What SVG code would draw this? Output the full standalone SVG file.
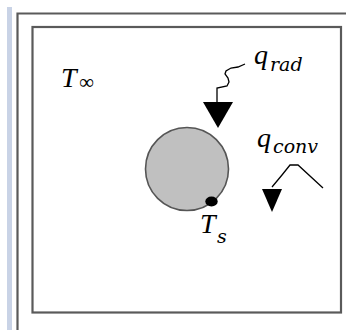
<svg xmlns="http://www.w3.org/2000/svg" width="346" height="330" viewBox="0 0 346 330">
<style>
.frame{fill:none;stroke:#5a5a5a;stroke-width:2.2}
.m{font-family:"Liberation Serif","DejaVu Serif",serif;font-style:italic;fill:#000}
.s{font-family:"DejaVu Serif","Liberation Serif",serif;font-style:italic;fill:#000}
.wire{fill:none;stroke:#000;stroke-width:1.3}
</style>
<rect width="346" height="330" fill="#fff"/>
<rect x="7" y="7" width="5" height="323" fill="#c9d3e6"/>
<g id="outer-frame"><path class="frame" d="M17.5 330 V13.5 H346"/></g>
<g id="inner-frame"><rect class="frame" x="32.5" y="27" width="308.5" height="285.5"/></g>
<g id="ambient"><text class="m" x="61" y="87" font-size="28">T</text><text x="79" y="89" font-size="21" font-family="Liberation Serif, serif">∞</text></g>
<g id="sphere">
<circle cx="187" cy="169" r="41.5" fill="#c0c0c0" stroke="#555" stroke-width="1.6"/>
<ellipse cx="211.5" cy="201.5" rx="6.2" ry="5" fill="#000"/>
<text class="m" x="200" y="233" font-size="28">T</text><text class="s" x="217" y="243" font-size="19">s</text>
</g>
<g id="connectors">
<g id="radiation">
<path class="wire" d="M245 64 L238 67 L231 68 L226 71 L225 74 L228 78 L229 82 L227 86 L217 88 V102"/>
<polygon points="203,102 233,102 218,128" fill="#000"/>
</g>
<g id="convection">
<path class="wire" stroke-width="1.1" d="M272 187 L282 175 L290 165 H298 L323 188"/>
<polygon points="262,189 282,189 272,212" fill="#000"/>
</g>
</g>
<g id="labels">
<text class="m" x="254" y="64" font-size="28">q</text><text class="s" x="270" y="71" font-size="19">rad</text>
<text class="m" x="257" y="147" font-size="28">q</text><text class="s" x="273" y="153" font-size="19">conv</text>
</g>
</svg>
